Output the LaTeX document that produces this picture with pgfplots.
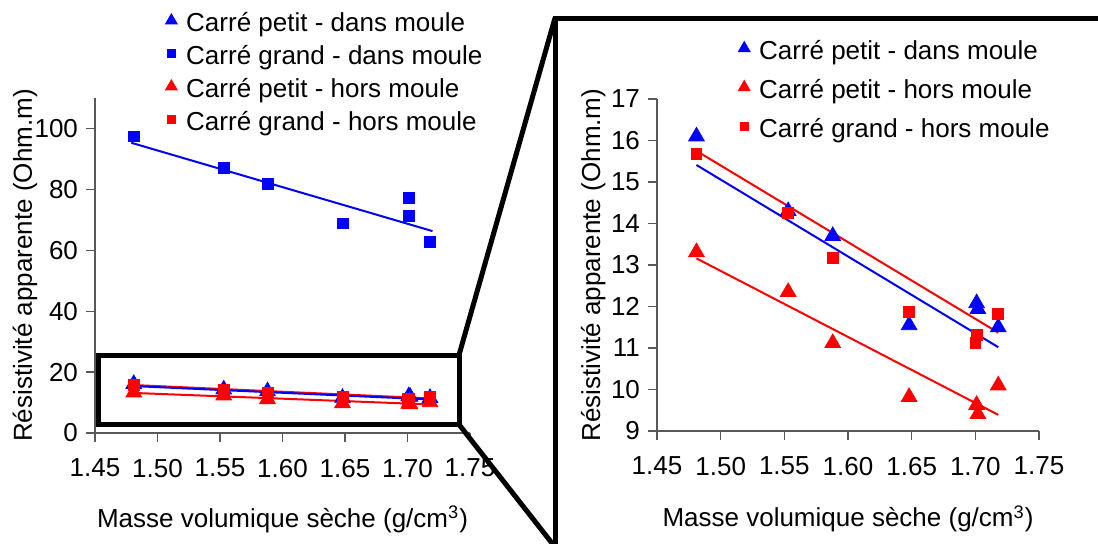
\documentclass[border=0pt]{standalone}
\usepackage{pgfplots}
\pgfplotsset{compat=1.18}
\usepackage{pgfplotstable}
\usepackage{fontspec}
\setmainfont{Liberation Sans}

% Carré petit - dans moule
\pgfplotstableread{
x y
1.481 16.10
1.553 14.30
1.588 13.70
1.648 11.55
1.701 12.08
1.702 11.94
1.718 11.50
}\petitdans
% Carré grand - dans moule
\pgfplotstableread{
x y
1.481 97.4
1.553 87.1
1.588 81.9
1.648 68.8
1.701 77.3
1.701 71.2
1.718 62.7
}\granddans
% Carré petit - hors moule
\pgfplotstableread{
x y
1.481 13.31
1.553 12.35
1.588 11.12
1.648 9.82
1.701 9.63
1.702 9.41
1.718 10.10
}\petithors
% Carré grand - hors moule
\pgfplotstableread{
x y
1.481 15.67
1.553 14.25
1.588 13.17
1.648 11.87
1.701 11.31
1.700 11.12
1.718 11.82
}\grandhors

\newcommand\fs{\fontsize{13}{15.6}\selectfont}

\pgfplotsset{
  resist/.style={
    scale only axis,
    anchor=south west,
    axis x line*=bottom, axis y line*=left,
    axis line style={black!65, line width=0.6pt},
    every tick/.style={black!65, line width=0.6pt},
    major tick length=4.5pt,
    tick align=outside,
    xmin=1.45, xmax=1.75,
    xtick={1.45,1.5,1.55,1.6,1.65,1.7,1.75},
    xticklabel style={/pgf/number format/.cd, fixed, fixed zerofill, precision=2,
      /tikz/.cd, yshift=-5pt},
    yticklabel style={xshift=-0.5pt},
    /pgf/number format/assume math mode=true,
    tick label style={font=\fs},
    label style={font=\fs},
    xlabel={Masse volumique sèche (g/cm\textsuperscript{3})},
    ylabel={Résistivité apparente (Ohm.m)},
    legend style={draw=none, fill=none, font=\fs, anchor=north west,
      inner sep=0pt, nodes={inner sep=0pt, text height=9.5pt, text depth=2.5pt},
      /tikz/every odd column/.append style={column sep=4.5pt}},
    legend cell align=left,
    legend image code/.code={\draw[##1] plot coordinates {(0pt,0.22em)};},
    legend image post style={mark options={scale=0.75}},
  },
  ptri/.style={only marks, mark=triangle*, mark size=4.5pt, color=#1},
  psq/.style={only marks, mark=square*, mark size=2.7pt, color=#1},
  trend/.style={color=#1, line width=1pt, forget plot},
}

\begin{document}
\begin{tikzpicture}
\path[use as bounding box] (0,0) rectangle (549pt,271.5pt);

% left: full range
\begin{axis}[resist, at={(47.5pt,55pt)}, width=187.5pt, height=167.5pt,
  ymin=0, ymax=110, ytick={0,20,...,100},
  xlabel style={at={(axis description cs:0.5,-0.281)}, anchor=base},
  ylabel style={at={(axis description cs:-0.168,0.5)}, anchor=base},
  legend style={at={(0.187,1.255)}, row sep=4.5pt}]
\addplot[ptri=blue] table {\petitdans};
\addlegendentry{Carré petit - dans moule}
\addplot[psq=blue] table {\granddans};
\addlegendentry{Carré grand - dans moule}
\addplot[ptri=red] table {\petithors};
\addlegendentry{Carré petit - hors moule}
\addplot[psq=red] table {\grandhors};
\addlegendentry{Carré grand - hors moule}
\addplot[trend=red] coordinates {(1.481,13.16) (1.718,9.39)};
\addplot[trend=red] coordinates {(1.481,15.75) (1.718,11.37)};
\addplot[trend=blue] coordinates {(1.481,15.41) (1.718,11.02)};
\addplot[trend=blue] coordinates {(1.479,95.3) (1.720,66.3)};
\end{axis}

% right: zoom
\begin{axis}[resist, at={(328.5pt,56pt)}, width=191pt, height=166pt,
  ymin=9, ymax=17, ytick={9,...,17},
  xlabel style={at={(axis description cs:0.5,-0.289)}, anchor=base},
  ylabel style={at={(axis description cs:-0.149,0.5)}, anchor=base},
  legend style={at={(0.212,1.177)}, row sep=7.5pt}]
\addplot[ptri=blue] table {\petitdans};
\addlegendentry{Carré petit - dans moule}
\addplot[ptri=red] table {\petithors};
\addlegendentry{Carré petit - hors moule}
\addplot[psq=red] table {\grandhors};
\addlegendentry{Carré grand - hors moule}
\addplot[trend=red] coordinates {(1.481,13.16) (1.718,9.39)};
\addplot[trend=red] coordinates {(1.481,15.75) (1.718,11.37)};
\addplot[trend=blue] coordinates {(1.481,15.41) (1.718,11.02)};
\end{axis}

% zoom box and connectors
\draw[line width=2.5pt, line join=miter] (49pt,94pt) rectangle (229.5pt,59.25pt);
\draw[line width=2.5pt] (229.5pt,94pt) -- (277.5pt,262.5pt);
\draw[line width=2.5pt] (229.5pt,59.25pt) -- (277.5pt,-2pt);
\draw[line width=2.5pt, line join=miter] (277.5pt,-2pt) -- (277.5pt,262.5pt) -- (552pt,262.5pt);
\end{tikzpicture}
\end{document}
